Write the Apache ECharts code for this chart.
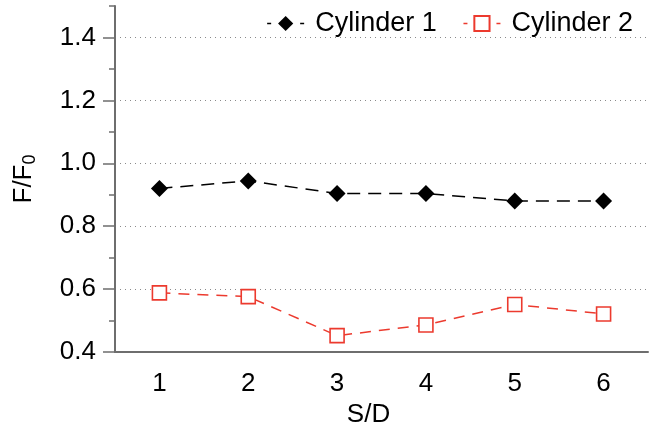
<!DOCTYPE html>
<html>
<head>
<meta charset="utf-8">
<script src="https://cdn.jsdelivr.net/npm/echarts@6/dist/echarts.min.js"></script>
<style>
  html, body { margin: 0; padding: 0; background: #fff; }
  #chart { width: 651px; height: 433px; }
</style>
</head>
<body>
<div id="chart"></div>
<script>
// S/D spacing ratios and normalised force for the two cylinders
const spacing = ['1', '2', '3', '4', '5', '6'];
const cylinder1 = [0.92, 0.944, 0.904, 0.904, 0.880, 0.880];
const cylinder2 = [0.588, 0.576, 0.452, 0.486, 0.551, 0.521];
const yMajorTicks = [0.4, 0.6, 0.8, 1.0, 1.2, 1.4];
const yMinorTicks = [0.5, 0.7, 0.9, 1.1, 1.3, 1.5];

const FONT = 'Liberation Sans';
const FS = 26;
const AXIS_GRAY = '#6e6e6e';
const RED = '#ec3a2e';

const chart = echarts.init(document.getElementById('chart'), null, { renderer: 'canvas' });

chart.setOption({
  animation: false,
  backgroundColor: '#fff',
  textStyle: { fontFamily: FONT },
  grid: { left: 115, right: 3, top: 6, bottom: 81, containLabel: false },
  legend: {
    right: 13,
    top: 5,
    itemWidth: 37,
    itemHeight: 19,
    itemGap: 26,
    textStyle: { fontFamily: FONT, fontSize: 27, color: '#000', padding: [0, 0, 0, 6] },
    data: [
      { name: 'Cylinder 1', lineStyle: { type: [4, 29], width: 1.5 } },
      { name: 'Cylinder 2', lineStyle: { type: [4, 29], width: 1.5 } }
    ]
  },
  xAxis: [
    {
      // labelled axis with long ticks at each category centre
      type: 'category',
      data: spacing,
      boundaryGap: true,
      name: 'S/D',
      nameLocation: 'middle',
      nameGap: 50,
      nameTextStyle: { fontFamily: FONT, fontSize: FS, color: '#000', padding: [0, 26, 0, 0] },
      axisLine: { lineStyle: { color: AXIS_GRAY, width: 2 } },
      axisTick: { alignWithLabel: true, length: 11, lineStyle: { color: AXIS_GRAY, width: 1.5 } },
      axisLabel: { fontFamily: FONT, fontSize: FS, color: '#000', margin: 19 },
      splitLine: { show: false }
    },
    {
      // short ticks on category boundaries
      type: 'category',
      data: spacing,
      boundaryGap: true,
      position: 'bottom',
      axisLine: { show: false },
      axisTick: { alignWithLabel: false, length: 5, lineStyle: { color: AXIS_GRAY, width: 1.5 } },
      axisLabel: { show: false },
      splitLine: { show: false }
    }
  ],
  yAxis: [
    {
      type: 'value',
      min: 0.4,
      max: 1.5,
      position: 'left',
      name: '{a|F/F}{s|0}',
      nameLocation: 'middle',
      nameRotate: 90,
      nameGap: 76,
      nameTextStyle: {
        rich: {
          a: { fontFamily: FONT, fontSize: FS, color: '#000' },
          s: { fontFamily: FONT, fontSize: 18, color: '#000', verticalAlign: 'bottom', padding: [12, 0, 0, 0] }
        }
      },
      axisLine: { show: true, lineStyle: { color: AXIS_GRAY, width: 2 } },
      axisTick: { show: true, length: 12, customValues: yMajorTicks, lineStyle: { color: AXIS_GRAY, width: 1.5 } },
      axisLabel: {
        customValues: yMajorTicks,
        fontFamily: FONT, fontSize: FS, color: '#000', margin: 19,
        formatter: v => v.toFixed(1)
      },
      splitLine: { show: false }
    },
    {
      type: 'value',
      min: 0.4,
      max: 1.5,
      position: 'left',
      axisLine: { show: false },
      axisTick: { show: true, length: 6, customValues: yMinorTicks, lineStyle: { color: AXIS_GRAY, width: 1.5 } },
      axisLabel: { show: false },
      splitLine: { show: false }
    },
    {
      // dotted reference lines at the labelled values
      type: 'value',
      min: 0.4,
      max: 1.5,
      interval: 0.2,
      position: 'left',
      axisLine: { show: false },
      axisTick: { show: false },
      axisLabel: { show: false },
      splitLine: {
        show: true,
        showMinLine: false,
        showMaxLine: false,
        lineStyle: { color: '#8a8a8a', width: 1, type: [1, 4] }
      }
    }
  ],
  series: [
    {
      name: 'Cylinder 1',
      type: 'line',
      data: cylinder1,
      symbol: 'diamond',
      symbolSize: 17,
      itemStyle: { color: '#000' },
      lineStyle: { color: '#000', width: 1.5, type: [13, 8] },
      z: 3
    },
    {
      name: 'Cylinder 2',
      type: 'line',
      data: cylinder2,
      symbol: 'rect',
      symbolSize: 14,
      itemStyle: { color: '#fff', borderColor: RED, borderWidth: 1.6 },
      lineStyle: { color: RED, width: 1.5, type: [11, 8] },
      z: 3
    }
  ]
});
</script>
</body>
</html>
